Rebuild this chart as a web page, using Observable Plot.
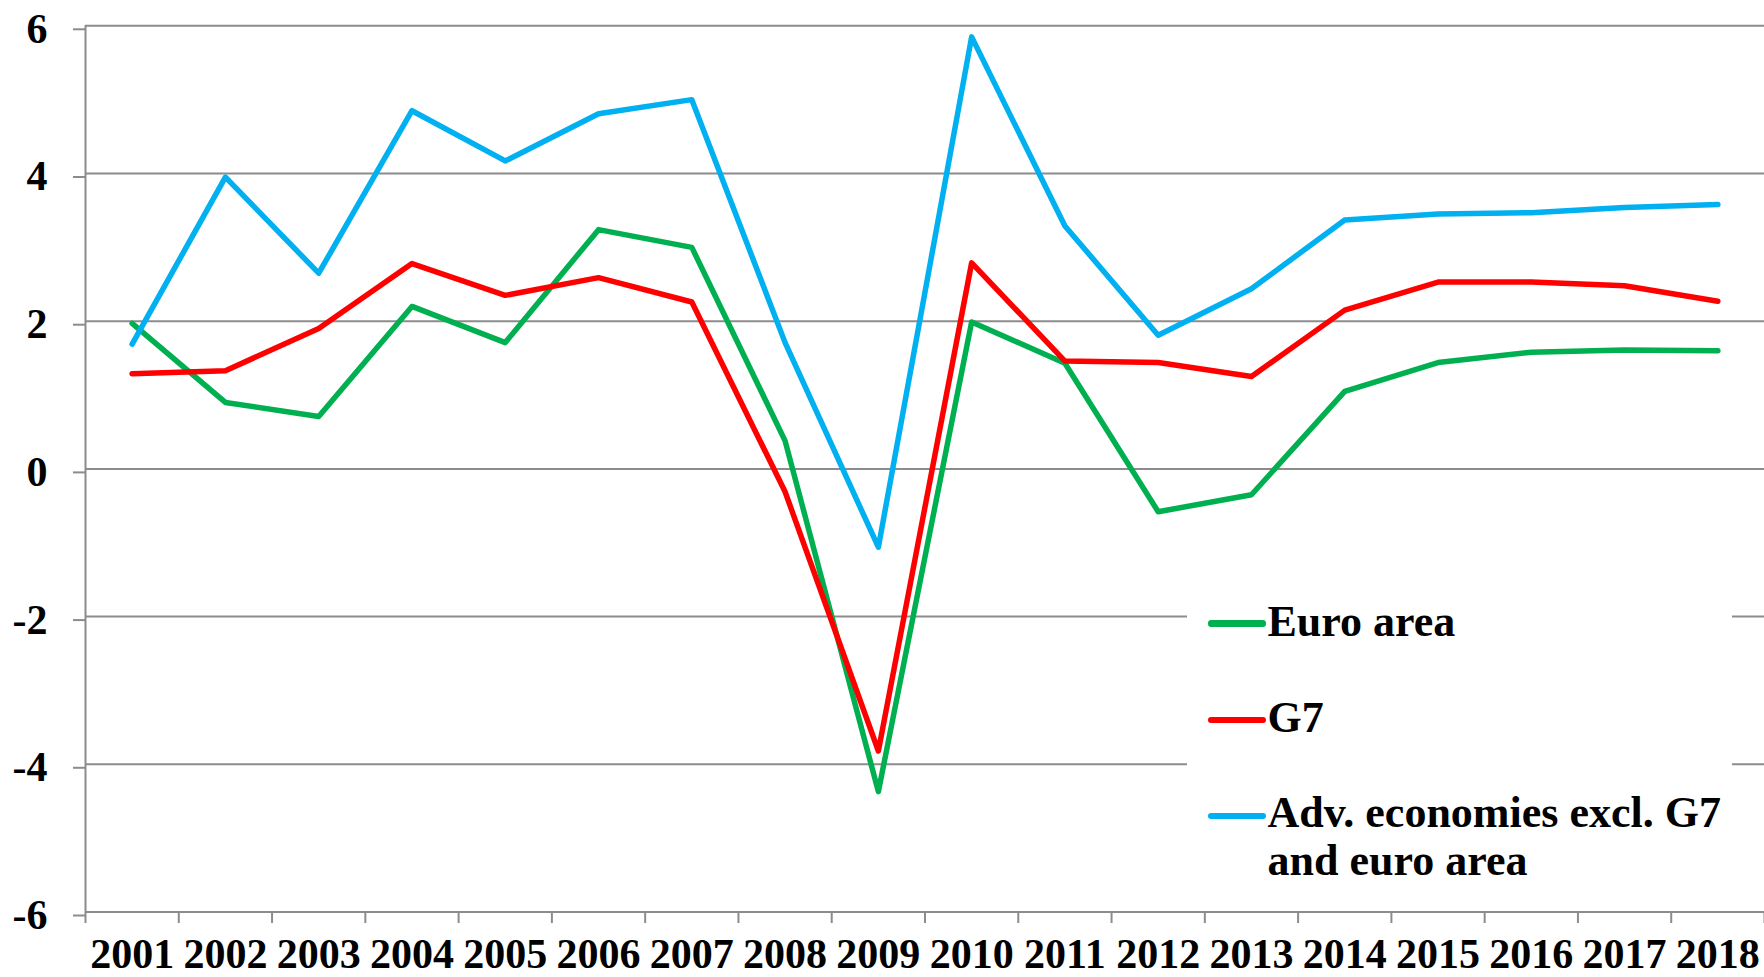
<!DOCTYPE html>
<html>
<head>
<meta charset="utf-8">
<script src="https://cdn.jsdelivr.net/npm/d3@7"></script>
<script src="https://cdn.jsdelivr.net/npm/@observablehq/plot@0.6"></script>
<style>
  html, body { margin: 0; padding: 0; background: #fff; }
  #wrap { position: relative; width: 1764px; height: 977px; overflow: hidden; }
  #legend { position: absolute; left: 1187px; top: 592px; width: 545px; height: 306px; background: #fff;
            font-family: "Liberation Serif", "Times New Roman", serif; font-weight: bold; font-size: 44px; color: #000; }
  .item { position: absolute; left: 80.5px; line-height: 48.5px; white-space: nowrap; }
  .sw { position: absolute; left: 21px; width: 58px; height: 6.5px; border-radius: 3.25px; }
</style>
</head>
<body>
<div id="wrap">
  <div id="chart"></div>
  <div id="legend"></div>
</div>
<script>
const years = [2001, 2002, 2003, 2004, 2005, 2006, 2007, 2008, 2009, 2010, 2011, 2012, 2013, 2014, 2015, 2016, 2017, 2018];
const euroArea = [1.97, 0.90, 0.71, 2.20, 1.71, 3.24, 3.00, 0.38, -4.37, 1.99, 1.43, -0.58, -0.35, 1.05, 1.44, 1.58, 1.61, 1.60];
const g7 = [1.29, 1.33, 1.90, 2.78, 2.35, 2.59, 2.26, -0.31, -3.82, 2.79, 1.46, 1.44, 1.25, 2.15, 2.53, 2.53, 2.48, 2.27];
const advOther = [1.69, 3.95, 2.65, 4.85, 4.17, 4.81, 5.00, 1.71, -1.06, 5.85, 3.29, 1.81, 2.44, 3.37, 3.45, 3.47, 3.54, 3.58];
const seriesNames = ["Euro area", "G7", "Adv. economies excl. G7 and euro area"];
const seriesColors = ["#00B050", "#FF0000", "#00B0F0"];
const yTicks = [-6, -4, -2, 0, 2, 4, 6];

const seriesValues = [euroArea, g7, advOther];
const rows = seriesValues.map((vals, i) => years.map((yr, j) => ({series: seriesNames[i], year: yr, value: vals[j]})));
const boundaries = [years[0] - 0.5, ...years.map(y => y + 0.5)];
const grid = "#8c8c8c";

const chart = Plot.plot({
  width: 1764,
  height: 977,
  marginLeft: 85,
  marginRight: 0,
  marginTop: 25.3,
  marginBottom: 65.5,
  x: {type: "linear", domain: [boundaries[0], boundaries[boundaries.length - 1]]},
  y: {domain: [-6, 6]},
  style: {fontFamily: "'Liberation Serif', 'Times New Roman', serif", fontWeight: "bold", fontSize: "42px", color: "#000", background: "#fff", overflow: "visible"},
  marks: [
    Plot.gridY(yTicks, {stroke: grid, strokeOpacity: 1, strokeWidth: 2}),
    Plot.axisY(yTicks, {tickSize: 12, tickPadding: 26, stroke: grid, strokeWidth: 2, fontSize: 42, fontWeight: "bold", label: null, dy: 3.5, tickFormat: d => String(d)}),
    Plot.ruleX([boundaries[0]], {y1: -6, y2: 6, stroke: grid, strokeWidth: 2}),
    Plot.axisX(boundaries, {tickSize: 11.5, stroke: grid, strokeWidth: 2, label: null, tickFormat: () => ""}),
    Plot.axisX(years, {tickSize: 0, tickPadding: 26, fontSize: 42, fontWeight: "bold", label: null, tickFormat: d => String(d)}),
    ...rows.map((r, i) => Plot.line(r, {x: "year", y: "value", stroke: seriesColors[i], strokeWidth: 5.5, strokeLinejoin: "round", strokeLinecap: "round"}))
  ]
});
document.getElementById("chart").appendChild(chart);

// Legend (HTML overlay with white background, as in the reference)
const legend = document.getElementById("legend");
const legendItems = [
  {label: ["Euro area"], textTop: 5.6, swTop: 28},
  {label: ["G7"], textTop: 102.2, swTop: 124.7},
  {label: ["Adv. economies excl. G7", "and euro area"], textTop: 196.9, swTop: 220.7}
];
legendItems.forEach((it, i) => {
  const sw = document.createElement("div");
  sw.className = "sw";
  sw.style.background = seriesColors[i];
  sw.style.top = it.swTop + "px";
  legend.appendChild(sw);
  const t = document.createElement("div");
  t.className = "item";
  t.style.top = it.textTop + "px";
  t.innerHTML = it.label.join("<br>");
  legend.appendChild(t);
});
</script>
</body>
</html>
